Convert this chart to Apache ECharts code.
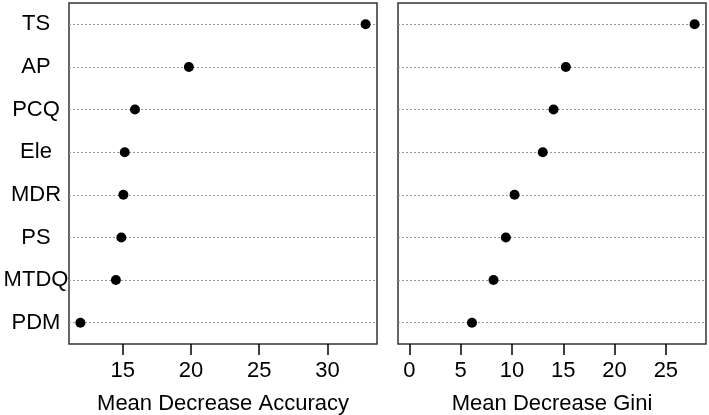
<!DOCTYPE html>
<html>
<head>
<meta charset="utf-8">
<script src="https://cdn.jsdelivr.net/npm/echarts@6/dist/echarts.min.js"></script>
<style>html,body{margin:0;padding:0;background:#fff}#c{width:709px;height:415px}</style>
</head>
<body>
<div id="c"></div>
<script>
var categories = ['TS','AP','PCQ','Ele','MDR','PS','MTDQ','PDM'];
var accuracy = [32.8, 19.85, 15.9, 15.15, 15.05, 14.9, 14.5, 11.9];
var gini = [27.8, 15.25, 14.05, 13.0, 10.25, 9.4, 8.2, 6.1];
var accTicks = [15, 20, 25, 30];
var giniTicks = [0, 5, 10, 15, 20, 25];

function extent(arr, fromZero) {
  var lo = fromZero ? 0 : Math.min.apply(null, arr);
  var hi = Math.max.apply(null, arr);
  var pad = (hi - lo) * 0.04;
  return [lo - pad, hi + pad];
}
var accExt = extent(accuracy, false);
var giniExt = extent(gini, true);

var FONT = '"Liberation Sans", Arial, sans-serif';
var chart = echarts.init(document.getElementById('c'), null, {renderer: 'canvas'});

function xAxisCfg(idx, ext, ticks, name) {
  return {
    type: 'value', gridIndex: idx, min: ext[0], max: ext[1],
    name: name, nameLocation: 'middle', nameGap: 49,
    nameTextStyle: {fontSize: 22, color: '#000', fontFamily: FONT},
    axisLine: {show: false},
    axisTick: {show: true, length: 11, inside: false, lineStyle: {color: '#000', width: 1.5}, customValues: ticks},
    axisLabel: {show: true, fontSize: 22, color: '#000', fontFamily: FONT, margin: 16, customValues: ticks},
    splitLine: {show: false}
  };
}
function yAxisCfg(idx, showLabels) {
  return {
    type: 'category', gridIndex: idx, data: categories, inverse: true, boundaryGap: true,
    axisLine: {show: false}, axisTick: {show: false},
    axisLabel: {show: showLabels, fontSize: 22, color: '#000', fontFamily: FONT, margin: 33, align: 'center'},
    splitLine: {show: false}
  };
}
function seriesCfg(idx, values) {
  return {
    type: 'scatter', xAxisIndex: idx, yAxisIndex: idx,
    data: values.map(function (v, i) { return [v, categories[i]]; }),
    symbol: 'circle', symbolSize: 10, itemStyle: {color: '#000', opacity: 1}, z: 5,
    markLine: {
      silent: true, symbol: 'none', animation: false,
      label: {show: false},
      lineStyle: {color: '#999', type: [2, 2], width: 1, opacity: 1},
      data: categories.map(function (c) { return {yAxis: c}; })
    }
  };
}

chart.setOption({
  animation: false,
  backgroundColor: '#fff',
  grid: [
    {left: 69, right: 332, top: 3, bottom: 71, show: true, borderColor: '#333', borderWidth: 1.5, backgroundColor: 'transparent', outerBoundsMode: 'none', containLabel: false},
    {left: 398, right: 3, top: 3, bottom: 71, show: true, borderColor: '#333', borderWidth: 1.5, backgroundColor: 'transparent', outerBoundsMode: 'none', containLabel: false}
  ],
  xAxis: [
    xAxisCfg(0, accExt, accTicks, 'Mean Decrease Accuracy'),
    xAxisCfg(1, giniExt, giniTicks, 'Mean Decrease Gini')
  ],
  yAxis: [yAxisCfg(0, true), yAxisCfg(1, false)],
  series: [seriesCfg(0, accuracy), seriesCfg(1, gini)]
});
</script>
</body>
</html>
